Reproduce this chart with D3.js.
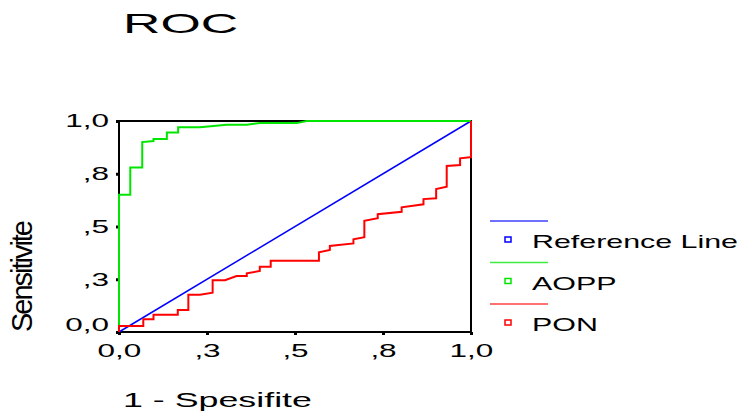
<!DOCTYPE html>
<html>
<head>
<meta charset="utf-8">
<script src="https://cdn.jsdelivr.net/npm/d3@7"></script>
<style>
    body { margin: 0; background: #fff; }
    svg { display: block; }
</style>
</head>
<body>
<div id="chart-container"></div>
<script>
// ROC points (1 - specificity, sensitivity)
const aoppFpr = [0, 0, 0.032, 0.032, 0.066, 0.066, 0.098, 0.098, 0.136, 0.136, 0.168, 0.168, 0.23, 0.306, 0.363, 0.40, 0.505, 0.533, 1];
const aoppTpr = [0, 0.65, 0.65, 0.78, 0.78, 0.90, 0.905, 0.915, 0.915, 0.946, 0.946, 0.97, 0.97, 0.982, 0.982, 0.99, 0.99, 1, 1];

const ponFpr = [0, 0, 0.069, 0.069, 0.098, 0.098, 0.167, 0.167, 0.197, 0.197, 0.23, 0.266, 0.266, 0.301, 0.334, 0.363, 0.363, 0.40, 0.40, 0.431, 0.431, 0.568, 0.568, 0.599, 0.599, 0.666, 0.666, 0.697, 0.697, 0.735, 0.735, 0.803, 0.803, 0.865, 0.865, 0.901, 0.901, 0.931, 0.931, 0.969, 0.969, 0.997, 1, 1];
const ponTpr = [0, 0.028, 0.028, 0.06, 0.06, 0.082, 0.082, 0.104, 0.104, 0.177, 0.177, 0.186, 0.245, 0.245, 0.265, 0.265, 0.278, 0.289, 0.309, 0.309, 0.338, 0.338, 0.378, 0.389, 0.408, 0.42, 0.439, 0.449, 0.527, 0.539, 0.558, 0.57, 0.591, 0.605, 0.63, 0.634, 0.678, 0.689, 0.787, 0.791, 0.823, 0.828, 0.828, 1];

const refFpr = [0, 1];
const refTpr = [0, 1];

const tickValues = [0, 0.25, 0.5, 0.75, 1];
const tickLabels = ["0,0", ",3", ",5", ",8", "1,0"];

const seriesNames = ["Reference Line", "AOPP", "PON"];
const seriesColors = ["#0000ff", "#00e600", "#ff0000"];

const width = 743;
const height = 419;
const font = "'Liberation Sans', Arial, sans-serif";

const x = d3.scaleLinear().domain([0, 1]).range([119, 471]);
const y = d3.scaleLinear().domain([0, 1]).range([332, 121]);

// the original text is drawn wide: scale each label horizontally around its anchor
function stretch(sel, sx) {
    sel.each(function () {
        const t = d3.select(this);
        const tx = +t.attr("x") || 0;
        const ty = +t.attr("y") || 0;
        t.attr("x", 0).attr("y", 0)
            .attr("transform", `translate(${tx},${ty}) scale(${sx},1)`);
    });
}

const svg = d3.select("#chart-container").append("svg")
    .attr("width", width)
    .attr("height", height)
    .attr("viewBox", [0, 0, width, height]);

// title
svg.append("text")
    .attr("x", 123)
    .attr("y", 33)
    .style("font", `28px ${font}`)
    .text("ROC")
    .call(stretch, 1.85);

// frame
svg.append("rect")
    .attr("x", x(0))
    .attr("y", y(1))
    .attr("width", x(1) - x(0))
    .attr("height", y(0) - y(1))
    .attr("fill", "none")
    .attr("stroke", "#000")
    .attr("stroke-width", 2);

// axes
const xAxis = svg.append("g")
    .attr("transform", `translate(0,${y(0)})`)
    .call(d3.axisBottom(x).tickValues(tickValues).tickFormat((d, i) => tickLabels[i]).tickSize(3).tickPadding(9));

const yAxis = svg.append("g")
    .attr("transform", `translate(${x(0)},0)`)
    .call(d3.axisLeft(y).tickValues(tickValues).tickFormat((d, i) => tickLabels[i]).tickSize(3).tickPadding(7));

// bottom y label sits a bit higher than its tick
yAxis.selectAll(".tick text").filter(d => d === 0).attr("y", -7);

[xAxis, yAxis].forEach(g => {
    g.select(".domain").remove();
    g.selectAll(".tick line").attr("stroke", "#000").attr("stroke-width", 3);
    g.selectAll(".tick text")
        .attr("fill", "#000")
        .style("font", `18px ${font}`)
        .call(stretch, 1.75);
});

// curves
const line = d3.line().x(d => x(d[0])).y(d => y(d[1]));
const curves = [
    d3.zip(refFpr, refTpr),
    d3.zip(aoppFpr, aoppTpr),
    d3.zip(ponFpr, ponTpr)
];
const widths = [1.5, 2, 2];

svg.append("g")
    .attr("fill", "none")
    .selectAll("path")
    .data(curves)
    .join("path")
    .attr("d", line)
    .attr("stroke", (d, i) => seriesColors[i])
    .attr("stroke-width", (d, i) => widths[i]);

// axis titles
svg.append("text")
    .attr("x", 123)
    .attr("y", 407)
    .style("font", `20px ${font}`)
    .text("1 - Spesifite")
    .call(stretch, 1.79);

svg.append("text")
    .attr("transform", "translate(32,276) rotate(-90)")
    .attr("text-anchor", "middle")
    .attr("textLength", 112)
    .attr("lengthAdjust", "spacing")
    .style("font", `29px ${font}`)
    .text("Sensitivite");

// legend
const legend = svg.append("g")
    .selectAll("g")
    .data(seriesNames)
    .join("g")
    .attr("transform", (d, i) => `translate(0,${i * 41.5})`);

legend.append("line")
    .attr("x1", 490)
    .attr("x2", 548)
    .attr("y1", 221)
    .attr("y2", 221)
    .attr("stroke", (d, i) => seriesColors[i])
    .attr("stroke-width", 1.5)
    .attr("stroke-opacity", 0.75);

legend.append("rect")
    .attr("x", 505)
    .attr("y", 237)
    .attr("width", 6)
    .attr("height", 5)
    .attr("fill", "none")
    .attr("stroke", (d, i) => seriesColors[i])
    .attr("stroke-width", 1.5);

legend.append("text")
    .attr("x", 532)
    .attr("y", 248)
    .style("font", `19px ${font}`)
    .text(d => d)
    .call(stretch, 1.6);
</script>
</body>
</html>
